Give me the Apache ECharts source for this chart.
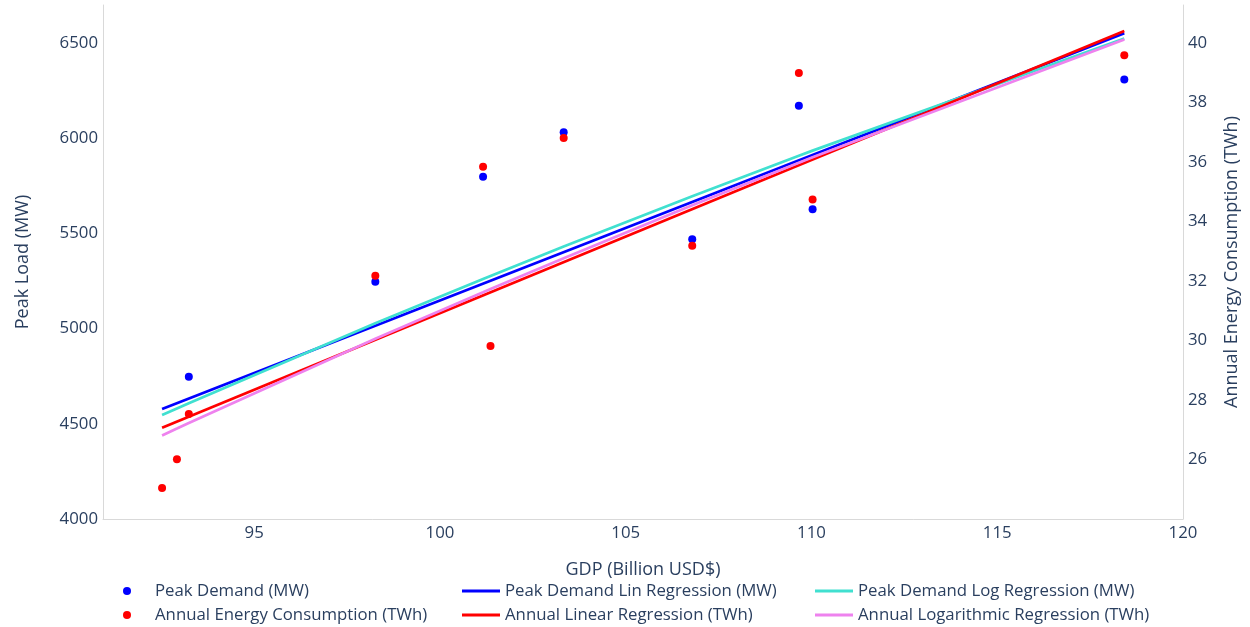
<!DOCTYPE html>
<html>
<head>
<meta charset="utf-8">
<script src="https://cdn.jsdelivr.net/npm/echarts@6/dist/echarts.min.js"></script>
<style>
  html, body { margin: 0; padding: 0; background: #ffffff; }
  #chart { width: 1250px; height: 627px; }
</style>
</head>
<body>
<div id="chart"></div>
<script>
// GDP (billion USD$) for each year of observations
const gdp = [92.52, 92.92, 93.24, 98.26, 101.16, 101.36, 103.33, 106.79, 109.66, 110.03, 118.42];
// Peak demand (MW); null where no value was recorded
const peakDemand = [null, null, 4747, 5246, 5798, null, 6031, 5469, 6171, 5627, 6309];
// Annual energy consumption (TWh)
const energy = [25.04, 26.01, 27.53, 32.18, 35.84, 29.82, 36.81, 33.19, 38.99, 34.74, 39.59];

// Linear regression lines, given at the two ends of the GDP span
const linGdp = [92.52, 118.42];
const peakLin = [4578, 6552];
const energyLin = [27.07, 40.41];

// Logarithmic regression values at each GDP point
const peakLog = [4546, 4581, 4608, 5028, 5261, 5277, 5432, 5695, 5908, 5935, 6524];
const energyLog = [26.81, 27.04, 27.23, 30.06, 31.62, 31.73, 32.77, 34.55, 35.98, 36.16, 40.12];

// Axis ticks
const xTicks = [95, 100, 105, 110, 115, 120];
const leftTicks = [4000, 4500, 5000, 5500, 6000, 6500];
const rightTicks = [26, 28, 30, 32, 34, 36, 38, 40];

const pairs = (xs, ys) => xs.map((x, i) => [x, ys[i]]).filter(p => p[1] !== null);
const tickFormatter = ticks => v => ticks.some(t => Math.abs(t - v) < 1e-6) ? String(Math.round(v)) : '';

const FONT = '"Open Sans", verdana, arial, sans-serif';
const TXT = '#2a3f5f';
const TICK_SIZE = 16.8;
const TITLE_SIZE = 18;
const AXIS_LINE = { show: true, onZero: false, lineStyle: { color: '#d9d9d9', width: 1 } };

// One legend entry per component so the three columns x two rows stay put
function legendItem(name, left, top, marker) {
  const base = {
    orient: 'horizontal',
    left: left,
    top: top,
    padding: 0,
    selectedMode: false,
    textStyle: { fontFamily: FONT, fontSize: 16.8, lineHeight: 19, color: TXT },
    data: [name]
  };
  if (marker) {
    return Object.assign(base, { icon: 'circle', itemWidth: 46, itemHeight: 8 });
  }
  return Object.assign(base, { icon: 'rect', itemWidth: 38, itemHeight: 3 });
}

const ROW1 = 581.5, ROW2 = 605.5;

const option = {
  animation: false,
  backgroundColor: '#ffffff',
  textStyle: { fontFamily: FONT },
  grid: { left: 103, right: 67, top: 5, bottom: 108, containLabel: false, outerBoundsMode: 'none' },
  legend: [
    legendItem('Peak Demand (MW)', 123, ROW1, true),
    legendItem('Annual Energy Consumption (TWh)', 123, ROW2, true),
    legendItem('Peak Demand Lin Regression (MW)', 462, ROW1, false),
    legendItem('Annual Linear Regression (TWh)', 462, ROW2, false),
    legendItem('Peak Demand Log Regression (MW)', 815, ROW1, false),
    legendItem('Annual Logarithmic Regression (TWh)', 815, ROW2, false)
  ],
  xAxis: {
    type: 'value',
    min: 90.93,
    max: 120,
    splitNumber: 5,
    axisLine: AXIS_LINE,
    axisTick: { show: false },
    splitLine: { show: false },
    axisLabel: { fontSize: TICK_SIZE, color: TXT, margin: 6, formatter: tickFormatter(xTicks), hideOverlap: false },
    name: 'GDP (Billion USD$)',
    nameLocation: 'middle',
    nameGap: 42,
    nameTextStyle: { fontSize: TITLE_SIZE, color: TXT, fontFamily: FONT }
  },
  yAxis: [
    {
      type: 'value',
      position: 'left',
      min: 4000,
      max: 6700,
      interval: 500,
      axisLine: AXIS_LINE,
      axisTick: { show: false },
      splitLine: { show: false },
      axisLabel: { fontSize: TICK_SIZE, color: TXT, margin: 5, formatter: tickFormatter(leftTicks) },
      name: 'Peak Load (MW)',
      nameLocation: 'middle',
      nameGap: 71,
      nameTextStyle: { fontSize: TITLE_SIZE, color: TXT, fontFamily: FONT }
    },
    {
      type: 'value',
      position: 'right',
      min: 24,
      max: 41.28,
      interval: 2,
      axisLine: AXIS_LINE,
      axisTick: { show: false },
      splitLine: { show: false },
      axisLabel: { fontSize: TICK_SIZE, color: TXT, margin: 5, formatter: tickFormatter(rightTicks) },
      name: 'Annual Energy Consumption (TWh)',
      nameLocation: 'middle',
      nameGap: 40,
      nameTextStyle: { fontSize: TITLE_SIZE, color: TXT, fontFamily: FONT }
    }
  ],
  series: [
    {
      name: 'Peak Demand (MW)',
      type: 'scatter',
      yAxisIndex: 0,
      symbolSize: 8,
      itemStyle: { color: '#0000ff', opacity: 1 },
      data: pairs(gdp, peakDemand)
    },
    {
      name: 'Peak Demand Lin Regression (MW)',
      type: 'line',
      yAxisIndex: 0,
      symbol: 'none',
      itemStyle: { color: '#0000ff' },
      lineStyle: { color: '#0000ff', width: 2.7 },
      data: pairs(linGdp, peakLin)
    },
    {
      name: 'Peak Demand Log Regression (MW)',
      type: 'line',
      yAxisIndex: 0,
      symbol: 'none',
      itemStyle: { color: '#40e0d0' },
      lineStyle: { color: '#40e0d0', width: 2.7 },
      data: pairs(gdp, peakLog)
    },
    {
      name: 'Annual Energy Consumption (TWh)',
      type: 'scatter',
      yAxisIndex: 1,
      symbolSize: 8,
      itemStyle: { color: '#ff0000', opacity: 1 },
      data: pairs(gdp, energy)
    },
    {
      name: 'Annual Linear Regression (TWh)',
      type: 'line',
      yAxisIndex: 1,
      symbol: 'none',
      itemStyle: { color: '#ff0000' },
      lineStyle: { color: '#ff0000', width: 2.7 },
      data: pairs(linGdp, energyLin)
    },
    {
      name: 'Annual Logarithmic Regression (TWh)',
      type: 'line',
      yAxisIndex: 1,
      symbol: 'none',
      itemStyle: { color: '#ee82ee' },
      lineStyle: { color: '#ee82ee', width: 2.7 },
      data: pairs(gdp, energyLog)
    }
  ]
};

const chart = echarts.init(document.getElementById('chart'), null, { renderer: 'canvas' });
chart.setOption(option);
</script>
</body>
</html>
